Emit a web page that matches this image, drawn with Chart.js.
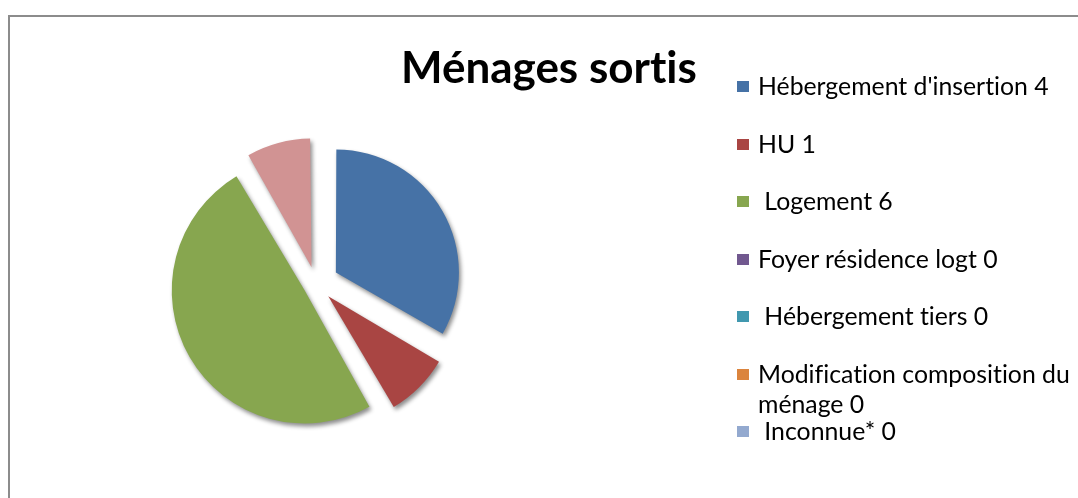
<!DOCTYPE html>
<html lang="fr">
<head>
<meta charset="utf-8">
<title>Ménages sortis</title>
<script src="https://cdn.jsdelivr.net/npm/chart.js@4.4.1/dist/chart.umd.min.js"></script>
<style>
  body { margin: 0; background: #fff; }
  #wrap { position: relative; width: 1078px; height: 498px; overflow: hidden; font-family: Lato, "Open Sans", sans-serif; color: #000; font-variant-ligatures: none; }
  #cadre { position: absolute; left: 8px; top: 15px; width: 1200px; height: 600px; border-left: 2px solid #8c8c8c; border-top: 2px solid #8c8c8c; }
  #graphique { position: absolute; left: 0; top: 0; }
  #titre { position: absolute; left: 401px; top: 40px; font-size: 44px; font-weight: 700; white-space: nowrap; }
  .item { position: absolute; left: 737px; width: 345px; font-size: 24.8px; line-height: 30px; }
  .item .carre { position: absolute; left: 0; top: 10px; width: 12px; height: 11px; }
  .item .texte { display: block; padding-left: 21px; white-space: pre-wrap; }
</style>
</head>
<body>
<div id="wrap">
  <div id="cadre"></div>
  <canvas id="graphique" width="1078" height="498"></canvas>
  <div id="titre">Ménages sortis</div>
  <div id="legende"></div>
</div>
<script>
// données du graphique
const categories = [
  "Hébergement d'insertion",
  "HU",
  " Logement",
  "Foyer résidence logt",
  " Hébergement tiers",
  "Modification composition du ménage",
  " Inconnue*",
  "Autre",
];
const valeurs = [4, 1, 6, 0, 0, 0, 0, 1];
const couleurs = [
  "#4672A6",
  "#A94543",
  "#87A64F",
  "#71588F",
  "#4198AF",
  "#DB843D",
  "#93A9CF",
  "#D19393",
];
const nbLegende = 7; // la légende d'origine s'arrête à "Inconnue*"

const total = valeurs.reduce((a, b) => a + b, 0);
const ecart = 26; // éclatement des parts, en pixels

// Chart.js divise l'offset par 4 puis l'augmente selon l'angle de la part
function offsetPart(ctx) {
  const angle = (valeurs[ctx.dataIndex] / total) * 2 * Math.PI;
  const fix = 1 - Math.sin(Math.min(Math.PI, angle));
  return (ecart * 4) / (1 + fix);
}

const ombre = {
  id: "ombre",
  beforeDatasetsDraw(chart) {
    const c = chart.ctx;
    c.save();
    c.shadowColor = "rgba(0, 0, 0, 0.45)";
    c.shadowBlur = 4;
    c.shadowOffsetX = 2;
    c.shadowOffsetY = 3;
  },
  afterDatasetsDraw(chart) {
    chart.ctx.restore();
  },
};

const chart = new Chart(document.getElementById("graphique"), {
  type: "pie",
  data: {
    labels: categories,
    datasets: [
      {
        data: valeurs,
        backgroundColor: couleurs,
        borderWidth: 0,
        offset: offsetPart,
        hoverOffset: 0,
      },
    ],
  },
  options: {
    responsive: false,
    animation: false,
    radius: 120,
    rotation: 0,
    layout: { padding: { left: 148, right: 594, top: 116, bottom: 46 } },
    plugins: {
      legend: { display: false },
      tooltip: { enabled: false },
    },
  },
  plugins: [ombre],
});

// légende HTML construite à partir des éléments de Chart.js
const legende = document.getElementById("legende");
const items = chart.options.plugins.legend.labels.generateLabels(chart);
items.slice(0, nbLegende).forEach((item, i) => {
  const div = document.createElement("div");
  div.className = "item";
  div.style.top = 86 + i * 57.5 - 15 + "px";
  div.innerHTML = `<span class="carre" style="background:${item.fillStyle}"></span><span class="texte"></span>`;
  div.querySelector(".texte").textContent = item.text + " " + valeurs[item.index];
  legende.appendChild(div);
});
</script>
</body>
</html>
